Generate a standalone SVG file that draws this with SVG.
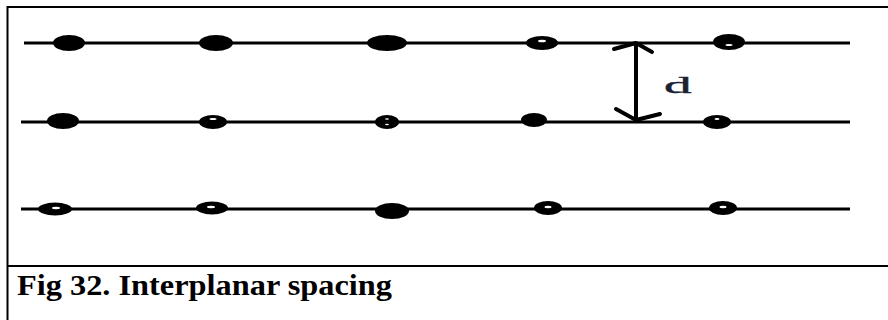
<svg xmlns="http://www.w3.org/2000/svg" width="888" height="320" viewBox="0 0 888 320">
  <style>
    .frame { stroke: #000; stroke-width: 2; fill: none; }
    .plane { stroke: #000; stroke-width: 3; fill: none; }
    .atom { fill: #000; }
    .hole { fill: #fff; }
    .arrow { stroke: #000; stroke-width: 4; fill: none; stroke-linecap: round; stroke-linejoin: round; }
    .label { font-family: "Liberation Serif", "Times New Roman", serif; }
  </style>
  <rect width="888" height="320" fill="#fff"/>

  <!-- frame -->
  <g id="frame">
    <line class="frame" x1="7" y1="7" x2="888" y2="7"/>
    <line class="frame" x1="7.5" y1="6" x2="7.5" y2="320"/>
    <line class="frame" x1="7" y1="266" x2="888" y2="266"/>
  </g>

  <!-- lattice planes -->
  <g id="planes">
    <line class="plane" x1="24" y1="43" x2="850" y2="43"/>
    <line class="plane" x1="21" y1="122" x2="850" y2="122"/>
    <line class="plane" x1="21" y1="209" x2="850" y2="209"/>
  </g>

  <!-- atoms on plane 1 -->
  <g id="plane1-atoms">
    <ellipse class="atom" cx="69" cy="43" rx="16" ry="8"/>
    <ellipse class="atom" cx="216" cy="43" rx="17" ry="8"/>
    <ellipse class="atom" cx="387" cy="43" rx="20" ry="8"/>
    <ellipse class="atom" cx="542" cy="43" rx="16" ry="7"/>
    <ellipse class="hole" cx="542" cy="41" rx="4" ry="1.3"/>
    <ellipse class="atom" cx="729" cy="42" rx="16" ry="8"/>
    <ellipse class="hole" cx="729" cy="45" rx="3.5" ry="1"/>
  </g>

  <!-- atoms on plane 2 -->
  <g id="plane2-atoms">
    <ellipse class="atom" cx="63" cy="121" rx="16" ry="8"/>
    <ellipse class="atom" cx="213" cy="122" rx="14" ry="7"/>
    <ellipse class="hole" cx="213" cy="119" rx="3.5" ry="1"/>
    <ellipse class="atom" cx="387" cy="122" rx="12" ry="7"/>
    <ellipse class="hole" cx="387" cy="119" rx="2" ry="0.8"/>
    <ellipse class="hole" cx="387" cy="124.5" rx="2" ry="0.8"/>
    <ellipse class="atom" cx="534" cy="120" rx="13" ry="7"/>
    <ellipse class="atom" cx="717" cy="122" rx="14" ry="7"/>
    <ellipse class="hole" cx="717" cy="119" rx="2.5" ry="1"/>
  </g>

  <!-- atoms on plane 3 -->
  <g id="plane3-atoms">
    <ellipse class="atom" cx="55" cy="209" rx="17" ry="6.5"/>
    <ellipse class="hole" cx="56" cy="208" rx="4" ry="1.2"/>
    <ellipse class="atom" cx="212" cy="208" rx="16" ry="6.5"/>
    <ellipse class="hole" cx="211" cy="207" rx="4" ry="1.2"/>
    <ellipse class="atom" cx="392" cy="211" rx="17" ry="8"/>
    <ellipse class="atom" cx="548" cy="208" rx="14" ry="7"/>
    <ellipse class="hole" cx="548" cy="207" rx="3.5" ry="1.2"/>
    <ellipse class="atom" cx="723" cy="208" rx="14" ry="7"/>
    <ellipse class="hole" cx="723" cy="207" rx="3.5" ry="1.2"/>
  </g>

  <!-- spacing arrow -->
  <g id="spacing">
    <path class="arrow" d="M636 44 L636 120"/>
    <path class="arrow" d="M614 49 L636 43 L652 52"/>
    <path class="arrow" d="M616 109 L636 120 L660 114"/>
    <text class="label" x="0" y="0" font-size="24" fill="#1b2033" stroke="#1b2033" stroke-width="0.4" transform="translate(664 93) scale(2.3 1)">d</text>
  </g>

  <!-- caption -->
  <g id="caption">
    <text class="label" x="17" y="295" font-size="29" font-weight="bold" fill="#000" textLength="375" lengthAdjust="spacingAndGlyphs">Fig 32. Interplanar spacing</text>
  </g>
</svg>
